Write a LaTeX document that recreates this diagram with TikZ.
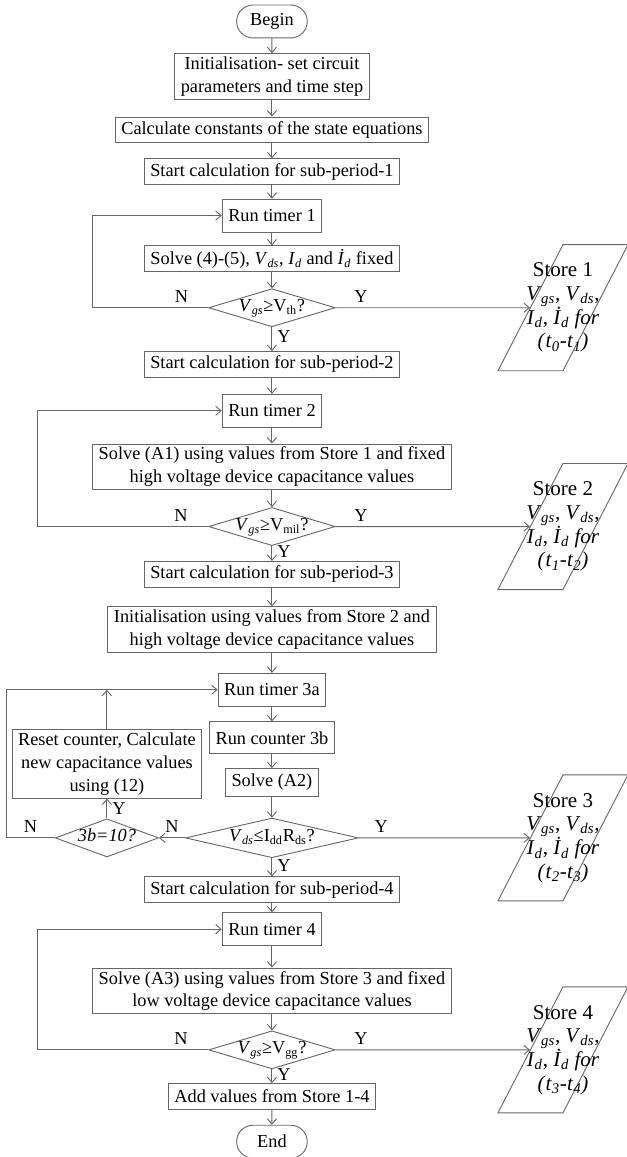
\documentclass[tikz,border=0pt]{standalone}
\usepackage{fontspec}
\setmainfont{Liberation Serif}
\usetikzlibrary{shapes,arrows.meta,positioning}
\newcommand{\isub}[2]{\textit{#1}\textsubscript{\textit{#2}}}
\newcommand{\rsub}[2]{#1\textsubscript{#2}}
\newcommand{\storetext}[1]{\makebox[0pt]{\fontsize{13.8}{15.3}\selectfont\begin{tabular}{@{}c@{}}#1\end{tabular}}}
\colorlet{flowgray}{black!60}
\tikzset{
    block/.style = {draw=flowgray, rectangle, align=center,
        inner xsep=4pt, inner ysep=2pt,
        minimum height=17pt},
    timer/.style = {block, minimum height=21.5pt},
    terminal/.style = {draw=flowgray, rounded rectangle,
        minimum width=53pt, minimum height=21.6pt},
    decision/.style = {draw=flowgray, diamond, aspect=3.3, inner sep=0pt,
        text height=7pt, text depth=2pt,
        minimum width=83pt, minimum height=25pt},
    store/.style = {draw=flowgray, trapezium, trapezium left angle=70,
        trapezium right angle=110, trapezium stretches=true,
        inner sep=0pt, minimum width=85.3pt, minimum height=82.7pt},
    conn/.style = {->, draw=flowgray},
}

\begin{document}
\begin{tikzpicture}[node distance=9.75pt, >={Straight Barb[length=3.5pt,width=6pt]},
    line width=0.6pt, font=\fontsize{12}{15}\selectfont]
		% start
		\node [terminal] (begin) {Begin};
		\useasboundingbox (-178.4pt,14.1pt) rectangle (232.9pt,-744.9pt);
		\node [block, below=of begin] (init) {Initialisation- set circuit\\parameters and time step};
		\node [block, below=11pt of init] (consts) {Calculate constants of the state equations};
		
		% sub-period 1
		\node [block, below=of consts] (start1) {Start calculation for sub-period-1};
		\node [timer, below=9pt of start1] (timer1) {Run timer 1};
		\node [block, below=8.5pt of timer1] (solve1) {Solve (4)-(5), \isub{V}{ds}, \isub{I}{d} and \isub{İ}{d} fixed};
		\node [decision, below=10.5pt of solve1] (dec1) {\isub{V}{gs}≥\rsub{V}{th}?};
		
		% sub-period 2
		\node [block, below=15.6pt of dec1] (start2) {Start calculation for sub-period-2};
		\node [timer, below=10.5pt of start2] (timer2) {Run timer 2};
		\node [block, below=10.5pt of timer2] (solve2) {Solve (A1) using values from Store 1 and fixed\\high voltage device capacitance values};
		\node [decision, below=11pt of solve2] (dec2) {\isub{V}{gs}≥\rsub{V}{mil}?};
		
		% sub-period 3
		\node [block, below=of dec2] (start3) {Start calculation for sub-period-3};
		\node [block, below=12.2pt of start3] (init3) {Initialisation using values from Store 2 and\\high voltage device capacitance values};
		\node [timer, below=13pt of init3] (timer3a) {Run timer 3a};
		\node [timer, minimum height=21pt, below=of timer3a] (count3b) {Run counter 3b};
		\node [block, minimum height=18.4pt, below=9pt of count3b] (solve3) {Solve (A2)};
		\node [decision, minimum width=113.5pt, below=13.5pt of solve3] (dec3) {\isub{V}{ds}≤\rsub{I}{dd}\rsub{R}{ds}?};
		
		% counter check
		\node [decision, minimum width=67pt, left=17pt of dec3] (dec3b) {\textit{3b=10?}};
		\node [block, above=13pt of dec3b] (reset) {Reset counter, Calculate\\new capacitance values\\using (12)};
		
		% sub-period 4
		\node [block, below=12pt of dec3] (start4) {Start calculation for sub-period-4};
		\node [timer, below=5.9pt of start4] (timer4) {Run timer 4};
		\node [block, below=14.2pt of timer4] (solve4) {Solve (A3) using values from Store 3 and fixed\\low voltage device capacitance values};
		\node [decision, below=10.5pt of solve4] (dec4) {\isub{V}{gs}≥\rsub{V}{gg}?};
		\node [block, below=9pt of dec4] (addvals) {Add values from Store 1-4};
		\node [terminal, below=of addvals] (end) {End};
		
		% stores
		\coordinate (storex) at (190.9pt,0);
		\node [store] (store1) at (dec1 -| storex) {\storetext{Store 1\\ \isub{V}{gs}, \isub{V}{ds},\\ \isub{I}{d}, \isub{İ}{d} \textit{for}\\ \textit{(}\isub{t}{0}\textit{-}\isub{t}{1}\textit{)}}};
		\node [store] (store2) at (dec2 -| storex) {\storetext{Store 2\\ \isub{V}{gs}, \isub{V}{ds},\\ \isub{I}{d}, \isub{İ}{d} \textit{for}\\ \textit{(}\isub{t}{1}\textit{-}\isub{t}{2}\textit{)}}};
		\node [store] (store3) at (dec3 -| storex) {\storetext{Store 3\\ \isub{V}{gs}, \isub{V}{ds},\\ \isub{I}{d}, \isub{İ}{d} \textit{for}\\ \textit{(}\isub{t}{2}\textit{-}\isub{t}{3}\textit{)}}};
		\node [store] (store4) at (dec4 -| storex) {\storetext{Store 4\\ \isub{V}{gs}, \isub{V}{ds},\\ \isub{I}{d}, \isub{İ}{d} \textit{for}\\ \textit{(}\isub{t}{3}\textit{-}\isub{t}{4}\textit{)}}};
		
		% connecting lines
		\draw [conn] (begin) -- (init);
		\draw [conn] (init) -- (consts);
		\draw [conn] (consts) -- (start1);
		\draw [conn] (start1) -- (timer1);
		\draw [conn] (timer1) -- (solve1);
		\draw [conn] (solve1) -- (dec1);
		\draw [conn] (dec1) -- node[right, pos=0.4] {Y} (start2);
		\draw [conn] (dec1) -- node[above, pos=0.13] {Y} (store1);
		\draw [conn] (dec1.west) -- node[above, pos=0.23] {N} ++(-76pt,0) |- (timer1);
		
		\draw [conn] (start2) -- (timer2);
		\draw [conn] (timer2) -- (solve2);
		\draw [conn] (solve2) -- (dec2);
		\draw [conn] (dec2) -- node[right, pos=0.4] {Y} (start3);
		\draw [conn] (dec2) -- node[above, pos=0.13] {Y} (store2);
		\draw [conn] (dec2.west) -- node[above, pos=0.16] {N} ++(-112pt,0) |- (timer2);
		
		\draw [conn] (start3) -- (init3);
		\draw [conn] (init3) -- (timer3a);
		\draw [conn] (timer3a) -- (count3b);
		\draw [conn] (count3b) -- (solve3);
		\draw [conn] (solve3) -- (dec3);
		\draw [conn] (dec3) -- node[right, pos=0.4] {Y} (start4);
		\draw [conn] (dec3) -- node[above, pos=0.13] {Y} (store3);
		\draw [conn] (dec3) -- node[above, pos=0.5] {N} (dec3b);
		\draw [conn] (dec3b) -- node[right] {Y} (reset);
		\draw [conn] (reset) -- (reset |- timer3a);
		\draw [conn] (dec3b.west) -- node[above, pos=0.5] {N} ++(-32pt,0) |- (timer3a);
		
		\draw [conn] (start4) -- (timer4);
		\draw [conn] (timer4) -- (solve4);
		\draw [conn] (solve4) -- (dec4);
		\draw [conn] (dec4) -- node[right, pos=0.4] {Y} (addvals);
		\draw [conn] (dec4) -- node[above, pos=0.13] {Y} (store4);
		\draw [conn] (dec4.west) -- node[above, pos=0.16] {N} ++(-112pt,0) |- (timer4);
		\draw [conn] (addvals) -- (end);
\end{tikzpicture}
\end{document}
